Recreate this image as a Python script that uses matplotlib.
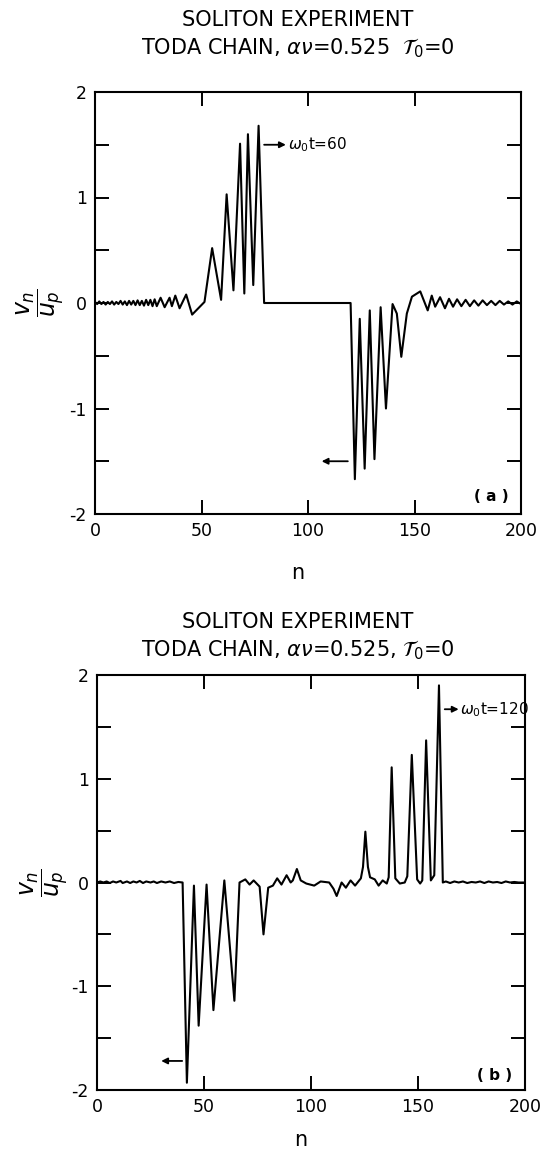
import matplotlib
matplotlib.use('Agg')
import matplotlib.pyplot as plt
import numpy as np

plt.rcParams['font.family'] = ['DejaVu Sans']
plt.rcParams['mathtext.fontset'] = 'dejavusans'

# panel (a): omega_0 t = 60  (site index n, v_n / u_p)
n_a = [0, 1, 2, 3, 4, 5, 6, 7, 8, 9, 10, 11, 12, 13, 14, 15, 16, 17, 18, 19,
       20, 21, 22, 23, 24, 25, 26, 27, 28, 29, 30.8, 32.7, 35.0, 36.1, 37.7,
       39.7, 42.8, 45.6, 51.4, 55.0, 59.2, 61.8, 65.0, 68.1, 70.1, 71.8, 74.3,
       76.8, 79.4, 120.0, 122.0, 124.3, 126.6, 129.0, 131.2, 134.1, 136.6,
       139.7, 141.7, 143.8, 146.4, 148.8, 152.7, 156.2, 158.1, 159.7, 162.0,
       164.3, 166.2, 168.1, 170, 172, 174, 176, 178, 180, 182, 184, 186, 188,
       190, 192, 194, 196, 198, 200]
v_a = [0.01, -0.01, 0.015, -0.01, 0.01, -0.015, 0.01, -0.01, 0.015, -0.015,
       0.01, -0.01, 0.02, -0.015, 0.015, -0.02, 0.02, -0.015, 0.02, -0.02,
       0.025, -0.02, 0.02, -0.025, 0.03, -0.02, 0.03, -0.03, 0.035, -0.03,
       0.05, -0.04, 0.05, -0.03, 0.07, -0.05, 0.08, -0.11, 0.01, 0.52, 0.03,
       1.03, 0.12, 1.51, 0.09, 1.60, 0.17, 1.68, 0.0, 0.0, -1.67, -0.15, -1.57,
       -0.07, -1.48, -0.04, -1.0, -0.01, -0.1, -0.51, -0.1, 0.06, 0.11, -0.07,
       0.07, -0.035, 0.055, -0.05, 0.04, -0.035, 0.035, -0.03, 0.03, -0.03,
       0.025, -0.025, 0.025, -0.02, 0.02, -0.02, 0.02, -0.015, 0.015, -0.015,
       0.015, -0.01]

# panel (b): omega_0 t = 120
n_b = [0, 1.5, 3, 4.5, 6, 7.5, 9, 11, 12, 14, 15.5, 17, 18.5, 20, 21.5, 23,
       25, 26.5, 28, 30, 32, 34, 36, 38, 40.0, 42.0, 45.3, 47.5, 51.2, 54.4,
       59.5, 64.2, 66.6, 69.3, 71.3, 73.2, 76.0, 77.8, 80.0, 82.2, 84.2, 86.2,
       88.6, 90.5, 91.5, 93.4, 95.2, 97.8, 101.5, 104.5, 108.5, 110.5, 112.0,
       114.3, 116.3, 118.5, 120.6, 123.3, 124.3, 125.4, 126.6, 127.6, 129.8,
       131.6, 133.5, 135.4, 136.3, 137.7, 139.4, 141.5, 143.8, 145.0, 147.1,
       149.6, 151.0, 152.0, 153.8, 156.0, 157.6, 159.8, 161.6, 163, 165, 167,
       169, 171, 173, 175, 177, 179, 181, 183, 185, 187, 189, 191, 193, 195,
       197, 200]
v_b = [0.0, 0.01, 0.0, 0.01, -0.005, 0.01, 0.0, 0.015, -0.005, 0.01, -0.005,
       0.01, 0.0, 0.015, -0.005, 0.01, 0.0, 0.01, -0.005, 0.01, 0.0, 0.01,
       -0.005, 0.005, 0.0, -1.93, -0.03, -1.38, -0.02, -1.23, 0.02, -1.14, 0.0,
       0.03, -0.02, 0.02, -0.04, -0.5, -0.05, -0.03, 0.04, -0.02, 0.07, 0.0,
       0.02, 0.13, 0.02, -0.01, -0.03, 0.01, 0.0, -0.06, -0.13, 0.0, -0.05,
       0.02, -0.03, 0.04, 0.15, 0.49, 0.15, 0.05, 0.03, -0.03, 0.02, -0.01,
       0.05, 1.11, 0.04, -0.01, 0.0, 0.06, 1.23, 0.03, -0.01, 0.02, 1.37, 0.02,
       0.07, 1.9, 0.0, 0.01, -0.005, 0.01, 0.0, 0.01, -0.005, 0.005, 0.0, 0.01,
       -0.005, 0.01, 0.0, 0.005, -0.005, 0.01, 0.0, 0.005, 0.0, 0.0]

x_ticks = [0, 50, 100, 150, 200]
y_ticks = [-2, -1.5, -1, -0.5, 0, 0.5, 1, 1.5, 2]
y_labels = ['-2', '', '-1', '', '0', '', '1', '', '2']

W, H = 543, 1154
fig = plt.figure(figsize=(W / 100, H / 100), dpi=100)


def frac_box(x0, x1, ytop, ybot):
    return [x0 / W, 1 - ybot / H, (x1 - x0) / W, (ybot - ytop) / H]


def style(ax, label_x):
    ax.set_xlim(0, 200)
    ax.set_ylim(-2, 2)
    ax.set_xticks(x_ticks)
    ax.set_xticklabels([str(t) for t in x_ticks])
    ax.set_yticks(y_ticks)
    ax.set_yticklabels(y_labels)
    ax.tick_params(direction='in', length=10, width=1.4, top=True, right=True,
                   labelsize=12.5, pad=6)
    for s in ax.spines.values():
        s.set_linewidth(1.5)
    ax.set_ylabel(r'$\dfrac{v_n}{u_p}$', fontsize=17, rotation=90)
    ax.yaxis.set_label_coords(label_x, 0.5)


def arrow(ax, tail, head, y):
    ax.annotate('', xy=(head, y), xytext=(tail, y),
                arrowprops=dict(arrowstyle='-|>', color='black', lw=1.3,
                                mutation_scale=9, shrinkA=0, shrinkB=0))


def titles(ytop, sep):
    fig.text(0.548, 1 - ytop / H, 'SOLITON EXPERIMENT', ha='center',
             va='center', fontsize=15)
    fig.text(0.548, 1 - (ytop + 28) / H,
             'TODA CHAIN, ' + r'$\alpha\nu$' + '=0.525' + sep +
             r'$\mathcal{T}_0$' + '=0',
             ha='center', va='center', fontsize=15)


# ---- panel (a)
ax1 = fig.add_axes(frac_box(95, 521, 92, 514))
ax1.plot(n_a, v_a, color='black', lw=1.5)
style(ax1, -0.065)
arrow(ax1, 79.4, 89.6, 1.5)
ax1.text(90.5, 1.5, r'$\omega_0$' + 't=60', fontsize=11, va='center')
arrow(ax1, 118.7, 106.4, -1.5)
ax1.text(186, -1.83, '( a )', fontsize=11, fontweight='bold', ha='center',
         va='center')
titles(20, '  ')
fig.text(0.548, 1 - 573 / H, 'n', ha='center', va='center', fontsize=15)

# ---- panel (b)
ax2 = fig.add_axes(frac_box(97, 525, 675, 1090))
ax2.plot(n_b, v_b, color='black', lw=1.5)
style(ax2, -0.06)
arrow(ax2, 162.5, 169.0, 1.67)
ax2.text(169.5, 1.67, r'$\omega_0$' + 't=120', fontsize=11, va='center')
arrow(ax2, 39.8, 30.0, -1.72)
ax2.text(186, -1.86, '( b )', fontsize=11, fontweight='bold', ha='center',
         va='center')
titles(622, ', ')
fig.text(0.553, 1 - 1140 / H, 'n', ha='center', va='center', fontsize=15)

fig.savefig('out.png', dpi=100, facecolor='white')
